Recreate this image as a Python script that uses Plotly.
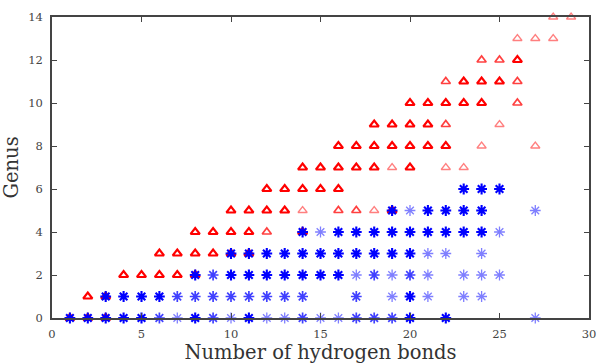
import plotly.graph_objects as go

# Red triangles: (x, y, intensity level 1=light, 2=medium, 3=strong)
red_x = [1, 2, 2, 3, 3, 4, 5, 6, 6, 7, 7, 8, 8, 8, 9, 9, 10, 10, 10, 11, 11, 11,
         12, 12, 12, 13, 13, 14, 14, 14, 14, 15, 15, 16, 16, 16, 16, 17, 17, 17,
         18, 18, 18, 18, 19, 19, 19, 19, 20, 20, 20, 20, 21, 21, 21,
         22, 22, 22, 22, 22, 23, 23, 23, 24, 24, 24, 24, 25, 25, 25,
         26, 26, 26, 26, 27, 27, 28, 28, 29]
red_y = [0, 0, 1, 0, 1, 2, 2, 2, 3, 2, 3, 2, 3, 4, 3, 4, 3, 4, 5, 3, 4, 5,
         4, 5, 6, 5, 6, 4, 5, 6, 7, 6, 7, 5, 6, 7, 8, 5, 7, 8,
         5, 7, 8, 9, 5, 7, 8, 9, 7, 8, 9, 10, 8, 9, 10,
         7, 8, 9, 10, 11, 7, 10, 11, 8, 10, 11, 12, 9, 11, 12,
         10, 11, 12, 13, 8, 13, 13, 14, 14]
red_lv = [3, 3, 3, 3, 3, 3, 3, 3, 3, 3, 3, 3, 3, 3, 3, 3, 3, 3, 3, 3, 3, 3,
          2, 3, 3, 3, 3, 3, 1, 3, 3, 3, 3, 2, 3, 3, 3, 2, 3, 3,
          1, 3, 3, 3, 3, 1, 3, 3, 3, 3, 3, 3, 3, 3, 3,
          1, 3, 2, 3, 2, 1, 3, 3, 1, 3, 3, 2, 1, 3, 2,
          2, 2, 3, 1, 1, 1, 1, 1, 1]

# Blue asterisks
blue_x = [1, 2, 3, 4, 5, 6, 7, 8, 9, 10, 11, 12, 13, 14, 15, 16, 17, 18, 19, 20, 22, 27,
          3, 4, 5, 6, 7, 8, 9, 10, 11, 12, 13, 14, 17, 19, 20, 21, 23, 24,
          8, 9, 10, 11, 12, 13, 14, 15, 16, 17, 18, 19, 20, 21, 23, 24, 25,
          10, 11, 12, 13, 14, 15, 16, 17, 18, 19, 20, 21, 22, 24,
          14, 15, 16, 17, 18, 19, 20, 21, 22, 23, 24, 25,
          19, 20, 21, 22, 23, 24, 27,
          23, 24, 25]
blue_y = [0] * 22 + [1] * 18 + [2] * 17 + [3] * 14 + [4] * 12 + [5] * 7 + [6] * 3
blue_lv = [3, 3, 3, 3, 3, 2, 1, 3, 2, 1, 3, 1, 1, 2, 1, 1, 2, 2, 2, 3, 3, 1,
           3, 3, 3, 3, 2, 2, 2, 2, 2, 2, 2, 2, 2, 1, 3, 1, 1, 1,
           3, 2, 3, 3, 3, 3, 3, 3, 3, 1, 2, 1, 2, 1, 1, 1, 1,
           3, 3, 3, 3, 3, 3, 3, 3, 3, 3, 3, 1, 1, 1,
           3, 1, 3, 3, 3, 3, 3, 3, 3, 3, 3, 1,
           3, 1, 3, 3, 3, 3, 1,
           3, 3, 3]

x_ticks = [0, 5, 10, 15, 20, 25, 30]
y_ticks = [0, 2, 4, 6, 8, 10, 12, 14]

op_map = {1: 0.5, 2: 0.75, 3: 1.0}
lw_map = {1: 1.3, 2: 1.7, 3: 2.1}

fig = go.Figure()
fig.add_trace(go.Scatter(
    x=red_x, y=red_y, mode="markers", cliponaxis=False,
    marker=dict(symbol="triangle-up-open", size=8, color="#ff0000",
                opacity=[op_map[v] for v in red_lv],
                line=dict(width=[lw_map[v] for v in red_lv], color="#ff0000")),
    showlegend=False))
fig.add_trace(go.Scatter(
    x=blue_x, y=blue_y, mode="markers", cliponaxis=False,
    marker=dict(symbol="asterisk-open", size=9, color="#0000ff",
                opacity=[op_map[v] for v in blue_lv],
                line=dict(width=[lw_map[v] for v in blue_lv], color="#0000ff")),
    showlegend=False))

axis_common = dict(showline=True, linecolor="#444", linewidth=1.5, mirror="ticks",
                   ticks="inside", ticklen=5, tickcolor="#444", showgrid=False,
                   zeroline=False, automargin=False,
                   tickfont=dict(family="DejaVu Serif", size=11.5, color="#444"))
fig.update_xaxes(range=[0, 30], tickvals=x_ticks, ticklabelstandoff=4, **axis_common,
                 title=dict(text="Number of hydrogen bonds",
                            font=dict(family="DejaVu Serif", size=19.5, color="#333"),
                            standoff=4))
fig.update_yaxes(range=[0, 14], tickvals=y_ticks, ticklabelstandoff=5, **axis_common,
                 title=dict(text="Genus",
                            font=dict(family="DejaVu Serif", size=19.5, color="#333"),
                            standoff=8))
fig.update_layout(width=601, height=364, plot_bgcolor="white", paper_bgcolor="white",
                  margin=dict(l=52, r=12, t=17, b=46))
fig.write_html("out.html", config={"displayModeBar": False},
               post_script="document.body.style.margin='0';")
